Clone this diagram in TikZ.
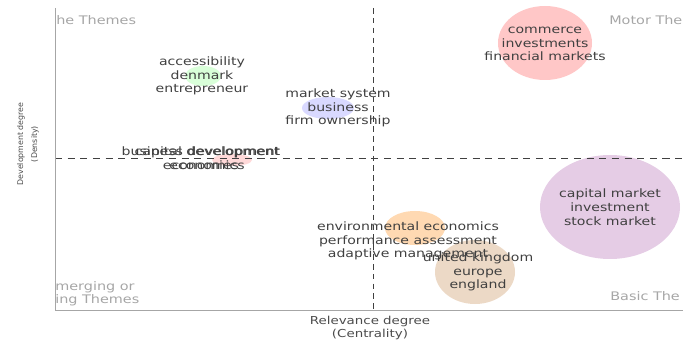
\documentclass[tikz,border=0pt]{standalone}
\usepackage{fontspec}
\setmainfont{DejaVu Sans}
\newfontfamily\widefont[FakeStretch=1.22]{DejaVu Sans}
\usetikzlibrary{%
  calc,%
  positioning%
}
\tikzset{
  theme/.style={align=center,text=black!75,inner sep=0pt,
    font=\widefont\fontsize{8.2}{9.8}\selectfont},
  corner/.style={text=black!35,inner sep=0pt,anchor=west,
    font=\widefont\fontsize{8.4}{9.4}\selectfont},
  axlabel/.style={align=center,text=black!70,inner sep=0pt,
    font=\widefont\fontsize{7.8}{8.8}\selectfont}
}

\begin{document}
\begin{tikzpicture}[x=0.025cm,y=-0.025cm]
  \useasboundingbox (0,0) rectangle (683,340);
  % bubbles
  \fill[red!22] (545,43) ellipse (47 and 37);
  \fill[violet!20] (610,207) ellipse (70 and 52);
  \fill[brown!30] (475,272) ellipse (40 and 32);
  \fill[orange!30] (415,228) ellipse (30 and 17);
  \fill[green!15] (203,76) ellipse (18 and 10);
  \fill[blue!15] (328,108) ellipse (26 and 11);
  \fill[red!15] (232,160) ellipse (20 and 6);
  % quadrant lines
  \coordinate (vtop) at (373,8);
  \coordinate (vbot) at (373,310);
  \coordinate (hlft) at (55,158);
  \coordinate (hrgt) at (683,158);
  \draw[black!75,dash pattern=on 4pt off 3pt] (vtop) -- (vbot);
  \draw[black!75,dash pattern=on 5pt off 4pt] (hlft) -- (hrgt);
  % axes
  \coordinate (origin) at (55,310);
  \draw[black!35] (55,8) -- (origin) -- (683,310);
  % themes
  \node[theme] (motor) at (545,44) {commerce\\investments\\financial markets};
  \node[theme] (basic) at (610,207) {capital market\\investment\\stock market};
  \node[theme] (access) at (202,76) {accessibility\\denmark\\entrepreneur};
  \node[theme] (market) at (338,108) {market system\\business\\firm ownership};
  \node[theme] (busdev) at (201,158) {business development\\economies};
  \node[theme] (capdev) at (207,158) {capital development\\economics};
  \node[theme] (envir) at (408,241) {environmental economics\\performance assessment\\adaptive management};
  \node[theme] (uk) at (478,272) {united kingdom\\europe\\england};
  % corner labels
  \node[corner] (niche) at (56,20) {he Themes};
  \node[corner] (motorlbl) at (609,20) {Motor The};
  \node[corner,align=left] (emerg) at (55,294) {merging or\\ing Themes};
  \node[corner] (basiclbl) at (610,296) {Basic The};
  % axis labels
  \node[axlabel] (xlbl) at (370,328) {Relevance degree\\(Centrality)};
  \node[axlabel,rotate=90,font=\fontsize{5.6}{10}\selectfont] (ylbl) at (28,144) {Development degree\\(Density)};
\end{tikzpicture}
\end{document}
